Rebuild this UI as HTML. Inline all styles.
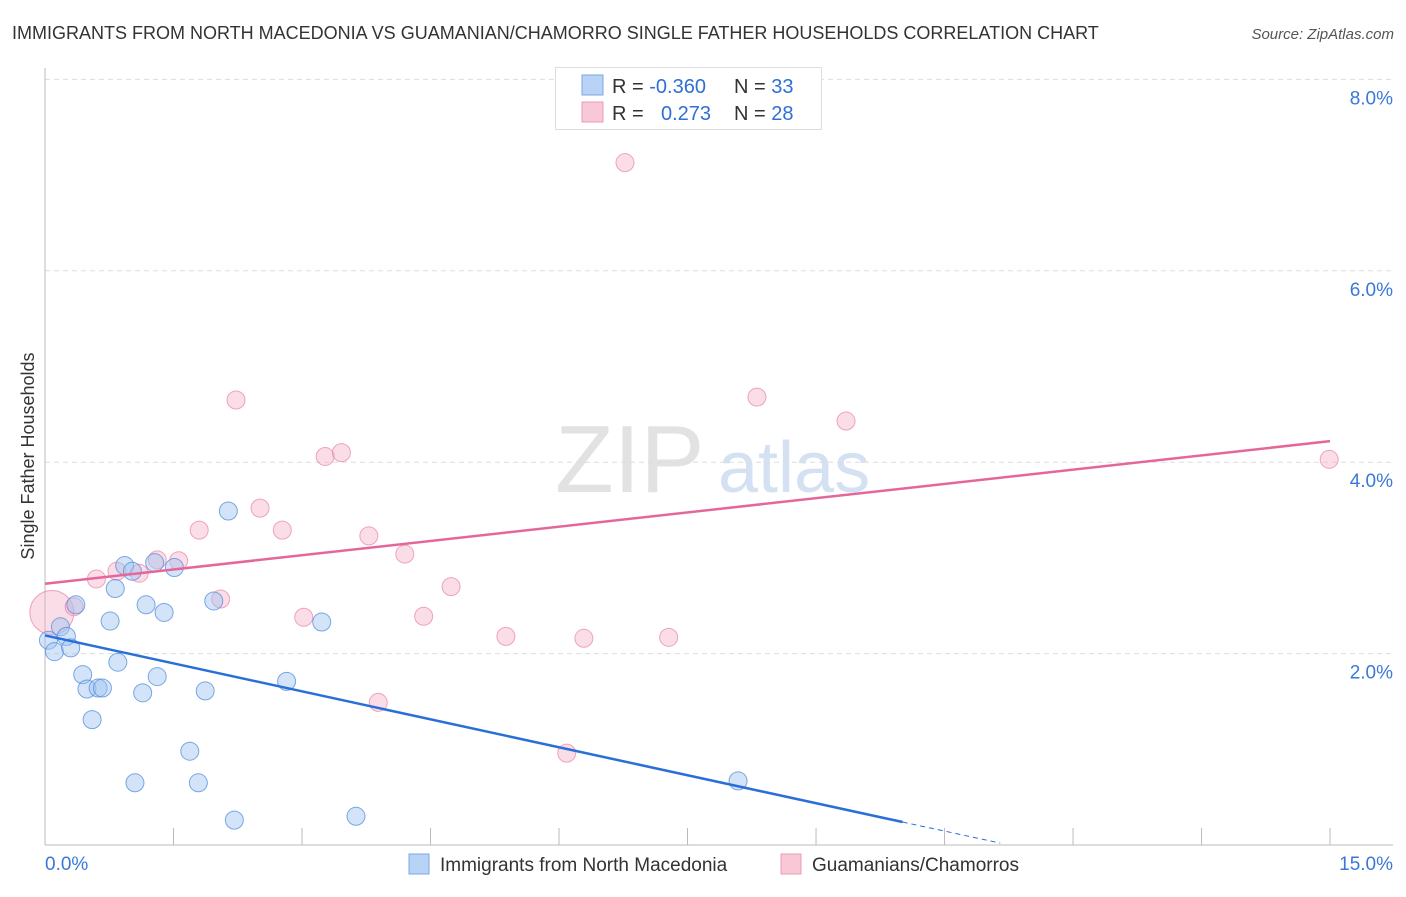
<!DOCTYPE html>
<html><head><meta charset="utf-8"><style>
body{margin:0;background:#fff;font-family:"Liberation Sans",sans-serif;}
svg text{font-family:"Liberation Sans",sans-serif;}
</style></head><body>
<svg id="chart" width="1406" height="892" xmlns="http://www.w3.org/2000/svg">
<text x="12" y="39" font-size="18" fill="#333">IMMIGRANTS FROM NORTH MACEDONIA VS GUAMANIAN/CHAMORRO SINGLE FATHER HOUSEHOLDS CORRELATION CHART</text>
<text x="1394" y="39" font-size="15" fill="#555" font-style="italic" text-anchor="end">Source: ZipAtlas.com</text>
<text x="34" y="456" font-size="18" fill="#333" text-anchor="middle" transform="rotate(-90 34 456)">Single Father Households</text>
<text x="555" y="492" font-size="96" fill="#e2e2e2" font-family="Liberation Serif">ZIP</text>
<text x="718" y="492" font-size="72" fill="#d3e1f3">atlas</text>
<g id="grid"></g><g id="axes"></g><g id="pts"></g><g id="lines"></g>
<g>
<rect x="555.5" y="67.5" width="266" height="62" fill="#fff" stroke="#ddd"/>
<rect x="582" y="75" width="21" height="20" fill="#b8d3f5" stroke="#7aa8e6"/>
<text x="612" y="93" font-size="20" fill="#333">R = <tspan fill="#2f6fd6">-0.360</tspan><tspan x="734">N = </tspan><tspan fill="#2f6fd6">33</tspan></text>
<rect x="582" y="102" width="21" height="20" fill="#f9c8d6" stroke="#ee9ab4"/>
<text x="612" y="120" font-size="20" fill="#333">R = <tspan x="661" fill="#2f6fd6">0.273</tspan><tspan x="734">N = </tspan><tspan fill="#2f6fd6">28</tspan></text>
</g>
<g>
<rect x="409" y="854" width="20" height="20" fill="#b8d3f5" stroke="#7aa8e6"/>
<text x="440" y="871" font-size="19" fill="#333">Immigrants from North Macedonia</text>
<rect x="781" y="854" width="20" height="20" fill="#f9c8d6" stroke="#ee9ab4"/>
<text x="812" y="871" font-size="19" fill="#333">Guamanians/Chamorros</text>
</g>
</svg>
<script>
const blueX=[0.04,0.11,0.18,0.25,0.30,0.36,0.44,0.49,0.55,0.62,0.67,0.76,0.82,0.85,0.93,1.02,1.05,1.14,1.18,1.28,1.31,1.39,1.51,1.69,1.79,1.87,1.97,2.14,2.21,2.82,3.23,3.63,8.09];
const blueY=[2.14,2.02,2.28,2.18,2.06,2.51,1.78,1.63,1.31,1.64,1.64,2.34,2.68,1.91,2.92,2.86,0.65,1.59,2.51,2.95,1.76,2.43,2.90,0.98,0.65,1.61,2.55,3.49,0.26,1.71,2.33,0.30,0.67];
const pinkX=[0.08,0.34,0.60,0.84,1.10,1.31,1.56,1.80,2.05,2.23,2.51,2.77,3.02,3.27,3.46,3.78,3.89,4.20,4.42,4.74,5.38,6.09,6.29,6.77,7.28,8.31,9.35,14.99];
const pinkY=[2.43,2.49,2.78,2.86,2.84,2.98,2.97,3.29,2.57,4.65,3.52,3.29,2.38,4.06,4.10,3.23,1.49,3.04,2.39,2.70,2.18,0.96,2.16,7.13,2.17,4.68,4.43,4.03];
const yTicks=[2,4,6,8];
const xTickLabels=["0.0%","15.0%"];
const blueTrend=[2.19,0.24,0.02], blueTrendX=[0,10.01,11.15];
const pinkTrend=[2.73,4.22], pinkTrendX=[0,15];
const NS="http://www.w3.org/2000/svg";
const sx=v=>45+v*85.67, sy=v=>845-v*95.7;
function mk(t,a,p){const e=document.createElementNS(NS,t);for(const k in a)e.setAttribute(k,a[k]);document.getElementById(p).appendChild(e);return e;}
yTicks.forEach(t=>{
 const g=mk('line',{x1:45,x2:1393,y1:sy(t),y2:sy(t),stroke:'#ddd','stroke-dasharray':'5,4'},'grid');
 
 
 const l=mk('text',{x:1393,y:sy(t)+25,'font-size':19,fill:'#3a78d8','text-anchor':'end'},'grid');
 l.textContent=t.toFixed(1)+'%';
 
 
});
const ax=mk('line',{x1:45,x2:45,y1:68,y2:845,stroke:'#bbb'},'axes');


const bx=mk('line',{x1:45,x2:1393,y1:845,y2:845,stroke:'#bbb'},'axes');


for(let i=1;i<=10;i++){const t=mk('line',{x1:sx(i*1.5),x2:sx(i*1.5),y1:828,y2:845,stroke:'#bbb'},'axes');
 
 }
[[0,xTickLabels[0],'start',45],[15,xTickLabels[1],'end',1393]].forEach(d=>{
 const l=mk('text',{x:d[3],y:870,'font-size':19,fill:'#3a78d8','text-anchor':d[2]},'axes');l.textContent=d[1];
 
 });
pinkX.forEach((x,i)=>{const c=mk('circle',{cx:sx(x),cy:sy(pinkY[i]),r:i===0?22:9,fill:'rgba(246,170,196,0.4)',stroke:'rgba(232,130,165,0.7)'},'pts');
 
 });
blueX.forEach((x,i)=>{const c=mk('circle',{cx:sx(x),cy:sy(blueY[i]),r:9,fill:'rgba(160,196,240,0.45)',stroke:'rgba(80,140,220,0.75)'},'pts');
 
 });
const pl=mk('line',{x1:sx(pinkTrendX[0]),y1:sy(pinkTrend[0]),x2:sx(pinkTrendX[1]),y2:sy(pinkTrend[1]),stroke:'#e5679a','stroke-width':2.5},'lines');


const bl=mk('line',{x1:sx(blueTrendX[0]),y1:sy(blueTrend[0]),x2:sx(blueTrendX[1]),y2:sy(blueTrend[1]),stroke:'#2a6fd8','stroke-width':2.5},'lines');


const bd=mk('line',{x1:sx(blueTrendX[1]),y1:sy(blueTrend[1]),x2:sx(blueTrendX[2]),y2:sy(blueTrend[2]),stroke:'#2a6fd8','stroke-width':1,'stroke-dasharray':'5,4'},'lines');


</script>
</body></html>
